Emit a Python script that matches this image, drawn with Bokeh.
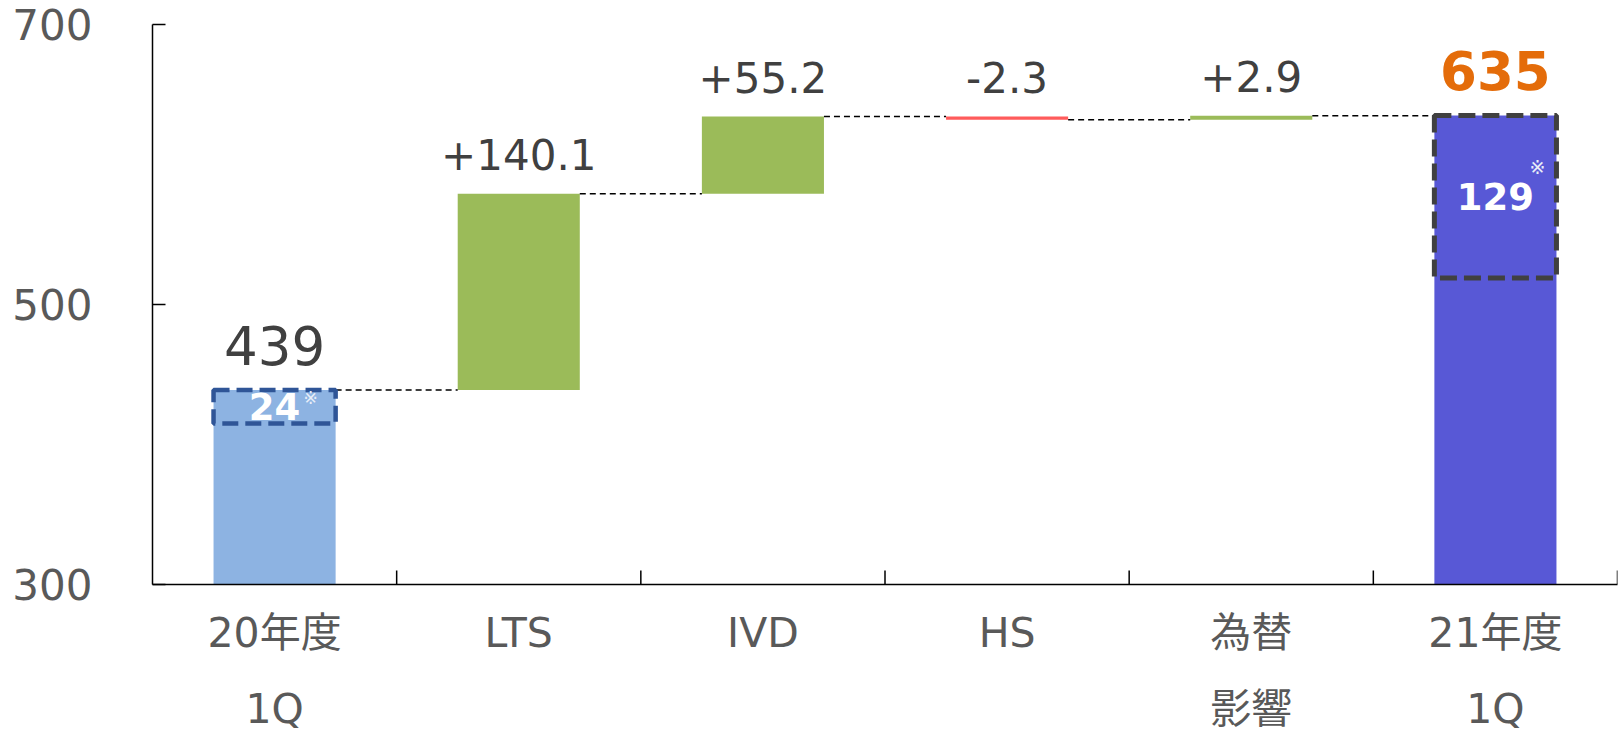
import numpy as np
from bokeh.plotting import figure
from bokeh.models import ColumnDataSource, FixedTicker, Range1d
from bokeh.core.properties import value
from bokeh.embed import file_html
from bokeh.resources import INLINE

# ---- data ----
categories = ["20年度\n1Q", "LTS", "IVD", "HS", "為替\n影響", "21年度\n1Q"]
start_total = 439.0
deltas = [140.1, 55.2, -2.3, 2.9]
delta_labels = ["+140.1", "+55.2", "-2.3", "+2.9"]
end_total = 635.0
highlight_labels = ["24", "129"]
highlight_ranges = [(415.0, 439.0), (519.0, 635.0)]
y_ticks = [300, 500, 700]

FONT = "DejaVu Sans, Noto Sans CJK JP"
TXT = "#404040"
AX = "#595959"

n = len(categories)
xc = np.arange(n) + 0.5
half = 0.25

p = figure(frame_width=1465, frame_height=560, output_backend="svg",
           toolbar_location=None, x_range=Range1d(0, n), y_range=Range1d(300, 700),
           min_border_left=152, min_border_right=1, min_border_top=24, min_border_bottom=10)
p.outline_line_color = None
p.grid.visible = False
p.background_fill_color = "white"

# totals
p.vbar(x=[xc[0]], bottom=300, top=[start_total], width=2 * half,
       fill_color="#8DB3E2", line_color=None)
p.vbar(x=[xc[-1]], bottom=300, top=[end_total], width=2 * half,
       fill_color="#5858D6", line_color=None)

# deltas
levels = [start_total]
for d in deltas:
    levels.append(levels[-1] + d)
bot = [min(levels[i], levels[i + 1]) for i in range(len(deltas))]
top = [max(levels[i], levels[i + 1]) for i in range(len(deltas))]
cols = ["#9BBB59" if d >= 0 else "#FF5B5B" for d in deltas]
dsrc = ColumnDataSource(dict(x=xc[1:-1], bottom=bot, top=top, color=cols,
                             label=delta_labels))
p.vbar(x="x", bottom="bottom", top="top", width=2 * half, fill_color="color",
       line_color=None, source=dsrc)

# connectors
conn_y = [levels[0]] + [levels[i + 1] for i in range(len(deltas))]
p.segment(x0=list(xc[:-1] + half), x1=list(xc[1:] - half), y0=conn_y, y1=conn_y,
          line_color="black", line_width=1.5, line_dash="6 4")

# highlight boxes
p.quad(left=[xc[0] - half], right=[xc[0] + half], bottom=[highlight_ranges[0][0]],
       top=[highlight_ranges[0][1]], fill_alpha=0, line_color="#2F5597",
       line_width=4.5, line_dash="16 7")
p.quad(left=[xc[-1] - half], right=[xc[-1] + half], bottom=[highlight_ranges[1][0]],
       top=[highlight_ranges[1][1]], fill_alpha=0, line_color="#404040",
       line_width=5, line_dash="17 7")

# highlight texts
for i, (lab, (b, t)) in enumerate(zip(highlight_labels, highlight_ranges)):
    xx = xc[0] if i == 0 else xc[-1]
    p.text(x=[xx], y=[(b + t) / 2], text=[lab], text_font=value(FONT),
           text_font_style="bold", text_font_size="37px", text_color="white",
           text_align="center", text_baseline="middle")
p.text(x=[xc[0]], y=[sum(highlight_ranges[0]) / 2], text=["※"], text_font=value(FONT),
       text_font_size="17px", text_color="#E8EEF8", text_align="center",
       text_baseline="middle", x_offset=36, y_offset=-9)
p.text(x=[xc[-1]], y=[sum(highlight_ranges[1]) / 2], text=["※"], text_font=value(FONT),
       text_font_size="19px", text_color="#E8EEF8", text_align="center",
       text_baseline="middle", x_offset=42, y_offset=-30)

# value labels
p.text(x="x", y="top", text="label", source=dsrc, text_font=value(FONT),
       text_font_size="42px", text_color=TXT, text_align="center",
       text_baseline="alphabetic", y_offset=-39)
p.text(x=[xc[0]], y=[start_total], text=[f"{start_total:.0f}"], text_font=value(FONT),
       text_font_size="53px", text_color=TXT, text_align="center",
       text_baseline="alphabetic", y_offset=-44)
p.text(x=[xc[-1]], y=[end_total], text=[f"{end_total:.0f}"], text_font=value(FONT),
       text_font_size="53px", text_font_style="bold", text_color="#E46C0A",
       text_align="center", text_baseline="alphabetic", y_offset=-45)

# category boundary ticks (inward)
bx = list(np.arange(1, n + 1))
p.segment(x0=bx, x1=bx, y0=300, y1=310, line_color="black", line_width=1.5)

# axes
xa = p.xaxis[0]
xa.ticker = FixedTicker(ticks=list(xc))
xa.major_label_overrides = {float(x): c for x, c in zip(xc, categories)}
xa.major_tick_in = 0
xa.major_tick_out = 0
xa.minor_tick_line_color = None
xa.axis_line_width = 1.5
xa.axis_line_color = "black"
xa.major_label_text_font = FONT
xa.major_label_text_font_size = "41px"
xa.major_label_text_color = AX
xa.major_label_text_line_height = 1.6
xa.major_label_standoff = 24

ya = p.yaxis[0]
ya.ticker = FixedTicker(ticks=y_ticks)
ya.major_tick_in = 13
ya.major_tick_out = 0
ya.minor_tick_line_color = None
ya.axis_line_width = 1.5
ya.axis_line_color = "black"
ya.major_tick_line_width = 1.5
ya.major_label_text_font = FONT
ya.major_label_text_font_size = "42px"
ya.major_label_text_color = AX
ya.major_label_standoff = 60

open("out.html", "w").write(file_html(p, INLINE))
